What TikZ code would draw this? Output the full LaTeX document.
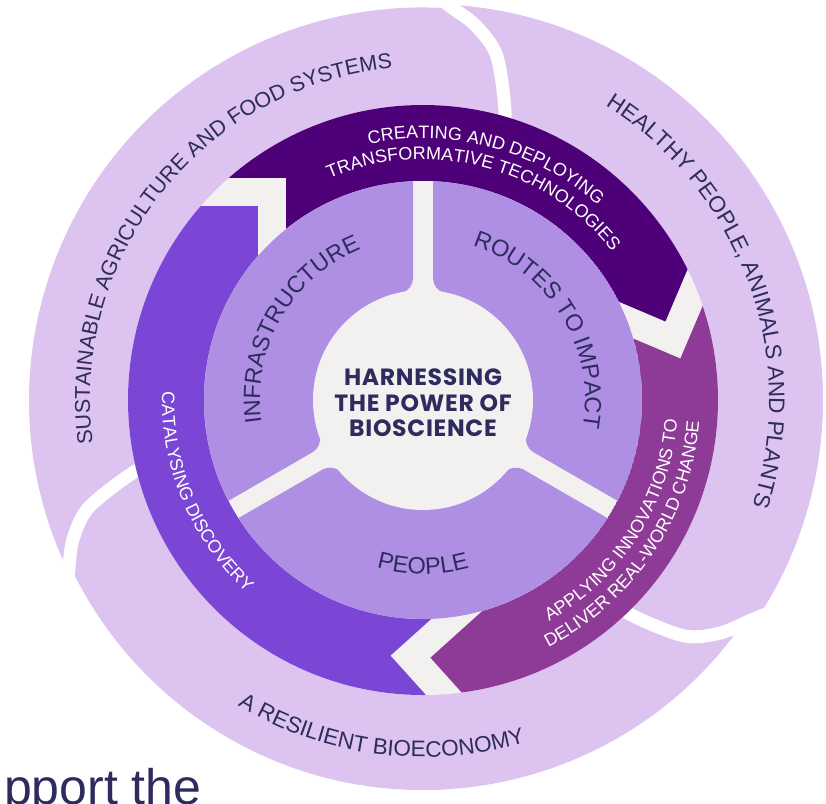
\documentclass[tikz,border=0pt]{standalone}
\usepackage{fontspec}
\setmainfont{Liberation Sans}
\newfontfamily\ctrfont{Poppins}[LetterSpace=3]
\usetikzlibrary{calc,decorations.text}
\definecolor{lilac}{HTML}{DCC3F0}
\definecolor{darkband}{HTML}{4E0078}
\definecolor{violetband}{HTML}{7B46D6}
\definecolor{magband}{HTML}{8E3B97}
\definecolor{midring}{HTML}{AF8FE4}
\definecolor{paleg}{HTML}{F2F1F0}
\definecolor{navy}{HTML}{2E2C5E}
% #1 tail junction angle, #2 tail chevron orientation, #3 head junction angle, #4 head orientation, #5 colour
\newcommand\ringseg[5]{%
 \fill[#5] ($(#1:257)+({#2-90}:20)+({#2+45}:75)$) -- ($(#1:257)+({#2-90}:20)$) -- ($(#1:257)+({#2-90}:20)+({#2+135}:75)$)
   -- ({#1+8}:150) arc[start angle={#1+8}, end angle={#3+18}, radius=150]
   -- ($(#3:257)+({#4+90}:20)+({#4+135}:75)$) -- ($(#3:257)+({#4+90}:20)$) -- ($(#3:257)+({#4+90}:20)+({#4+45}:75)$)
   -- ({#3+20}:400) arc[start angle={#3+20}, end angle={#1+5}, radius=400] -- cycle;}
\newcommand\outerfmt{\fontsize{21.5}{24}\selectfont\color{navy}}
\newcommand\bandfmt{\fontsize{18}{20}\selectfont\color{white}}
\newcommand\midfmt{\fontsize{23.5}{26}\selectfont\color{navy}}
\begin{document}
\begin{tikzpicture}[x=1pt,y=1pt]
\useasboundingbox (-423,-403) rectangle (403,400);
% outer lobes
\fill[lilac] (206:394) arc[start angle=206,end angle=86,radius=393] -- ($(86:396)+(4,0)$) arc[start angle=86,end angle=-34,radius=396] -- (-34:390) arc[start angle=-34,end angle=-154,radius=390] -- cycle;
\foreach \rot in {0,-120,120}
  \draw[white, line width=13pt] plot[smooth] coordinates {({\rot+72.5}:260) ({\rot+74.1}:299.4) ({\rot+77.9}:351.9) ({\rot+81.9}:377.7) ({\rot+86.1}:394.9) ({\rot+89.5}:412)};
% coloured ring
\fill[paleg] (0,0) circle (295);
\begin{scope}
  \clip (0,0) circle (295);
  \ringseg{267.2}{267}{126}{135}{violetband}
  \ringseg{126}{135}{13.5}{22}{darkband}
  \ringseg{13.5}{22}{-92.8}{-93}{magband}
\end{scope}
% middle ring
\begin{scope}
  \clip (0,0) circle (219);
  \fill[paleg] (0,0) circle (219);
  \foreach \s in {90,210,330}
    \fill[midring, rounded corners=12pt] ($(\s:260)+({\s+90}:10)$) -- ($(\s:109.5)+({\s+90}:10)$)
      \foreach \k in {1,...,5} { -- ({\s+20*\k}:110) }
      -- ($({\s+120}:109.5)+({\s+30}:10)$) -- ($({\s+120}:260)+({\s+30}:10)$) -- ({\s+60}:320) -- cycle;
\end{scope}
\fill[paleg] (0,0) circle (110);
% outer texts
\path[decorate, decoration={text along path, text align=center, text={|\outerfmt|SUSTAINABLE AGRICULTURE AND FOOD SYSTEMS}}] (231.4:333) arc[start angle=231.4, end angle=51.4, radius=333];
\path[decorate, decoration={text along path, text align=center, text={|\outerfmt\fontsize{22.5}{24}\selectfont|HEALTHY PEOPLE, ANIMALS AND PLANTS}}] (110.2:346) arc[start angle=110.2, end angle=-69.8, radius=346];
\path[decorate, decoration={text along path, text align=center, text={|\outerfmt\fontsize{22.5}{24}\selectfont|A RESILIENT BIOECONOMY}}] (-187.3:357) arc[start angle=-187.3, end angle=-7.3, radius=357];
% band texts
\path[decorate, decoration={text along path, text align=center, text={|\bandfmt|CREATING AND DEPLOYING}}] (165:261.5) arc[start angle=165, end angle=-15, radius=261.5];
\path[decorate, decoration={text along path, text align=center, text={|\bandfmt|TRANSFORMATIVE TECHNOLOGIES}}] (165.5:240.5) arc[start angle=165.5, end angle=-14.5, radius=240.5];
\path[decorate, decoration={text along path, text align=center, text={|\bandfmt|APPLYING INNOVATIONS TO}}] (-122.4:255) arc[start angle=-122.4, end angle=57.6, radius=255];
\path[decorate, decoration={text along path, text align=center, text={|\bandfmt|DELIVER REAL-WORLD CHANGE}}] (-123.75:277) arc[start angle=-123.75, end angle=56.25, radius=277];
\path[decorate, decoration={text along path, text align=center, text={|\bandfmt|CATALYSING DISCOVERY}}] (112.8:261) arc[start angle=112.8, end angle=292.8, radius=261];
% middle ring texts
\path[decorate, decoration={text along path, text align=center, text={|\midfmt|INFRASTRUCTURE}}] (240.2:163) arc[start angle=240.2, end angle=60.2, radius=163];
\path[decorate, decoration={text along path, text align=center, text={|\midfmt|ROUTES TO IMPACT}}] (121.1:162) arc[start angle=121.1, end angle=-58.9, radius=162];
\path[decorate, decoration={text along path, text align=center, text={|\midfmt|PEOPLE}}] (-180:174) arc[start angle=-180, end angle=0, radius=174];
% centre
\node[font=\ctrfont\bfseries\fontsize{23.5}{25.5}\selectfont, text=navy, align=center] (ctr) at (0,-3) {HARNESSING\\THE POWER OF\\BIOSCIENCE};
\node[anchor=base west, font=\fontsize{50}{60}\selectfont, text=navy, inner sep=0pt] (sup) at (-419,-404) {pport the};
\end{tikzpicture}
\end{document}
